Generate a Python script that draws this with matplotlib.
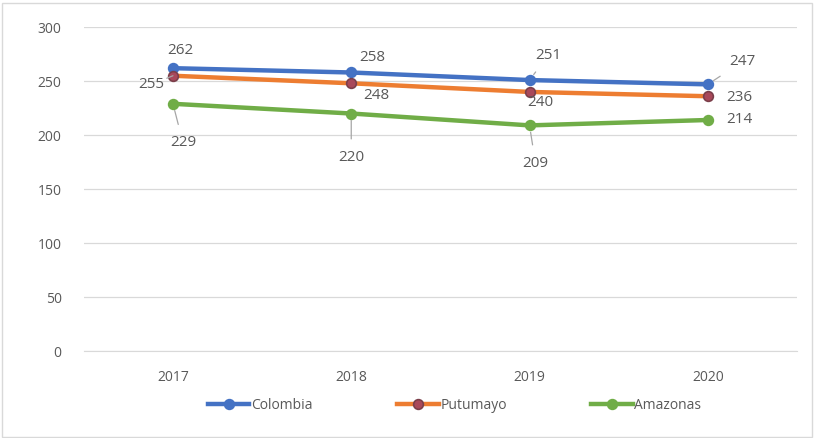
import matplotlib.pyplot as plt
from matplotlib.patches import Rectangle

plt.rcParams['font.family'] = ['Open Sans', 'DejaVu Sans']

years = ['2017', '2018', '2019', '2020']
colombia = [262, 258, 251, 247]
putumayo = [255, 248, 240, 236]
amazonas = [229, 220, 209, 214]

# desplazamiento de las etiquetas (pixeles) y si llevan linea guia
off_col = [(7, 18, False), (21, 15, False), (19, 25, True), (35, 23, True)]
off_put = [(-22, -9, True), (25, -12, False), (11, -11, False), (32, -1, False)]
off_ama = [(10, -39, True), (0, -44, True), (6, -38, True), (32, 0, False)]

gris = '#595959'

fig = plt.figure(figsize=(8.14, 4.38), dpi=100)
ax = fig.add_axes([0.103, 0.1986, 0.876, 0.7394])

x = range(len(years))
series = [
    ('Colombia', colombia, '#4472C4', '#4472C4', '#4472C4', off_col),
    ('Putumayo', putumayo, '#ED7D31', '#A9485A', '#7B3F4A', off_put),
    ('Amazonas', amazonas, '#70AD47', '#70AD47', '#70AD47', off_ama),
]
for nombre, vals, color, mfc, mec, offs in series:
    ax.plot(x, vals, color=color, lw=3.2, marker='o', ms=7,
            mfc=mfc, mec=mec, mew=1.2, label=nombre, zorder=3)
    for i, v in enumerate(vals):
        dx, dy, guia = offs[i]
        props = None
        if guia:
            props = dict(arrowstyle='-', color='#A6A6A6', lw=0.9,
                         shrinkA=6, shrinkB=5)
        ax.annotate(str(v), (i, v), xytext=(dx, dy), textcoords='offset pixels',
                    ha='center', va='center', fontsize=11, color=gris,
                    arrowprops=props, zorder=4)

ax.set_xlim(-0.5, len(years) - 0.5)
ax.set_ylim(0, 300)
ax.set_yticks(range(0, 301, 50))
ax.set_xticks(list(x))
ax.set_xticklabels(years)
ax.grid(axis='y', color='#D9D9D9', lw=0.9)
ax.set_axisbelow(True)
for s in ['top', 'right', 'left']:
    ax.spines[s].set_visible(False)
ax.spines['bottom'].set_color('#D9D9D9')
ax.tick_params(length=0, colors=gris, labelsize=10)
ax.tick_params(axis='x', pad=14)
ax.tick_params(axis='y', pad=16)

ax.legend(loc='center', bbox_to_anchor=(0.52, -0.167), ncol=3, frameon=False,
          fontsize=10, labelcolor=gris, handlelength=3, columnspacing=6.1,
          handletextpad=0.1)

fig.add_artist(Rectangle((0.003, 0.003), 0.994, 0.99, transform=fig.transFigure,
                         fill=False, edgecolor='#D9D9D9', lw=1))

fig.savefig('out.png', dpi=100)
